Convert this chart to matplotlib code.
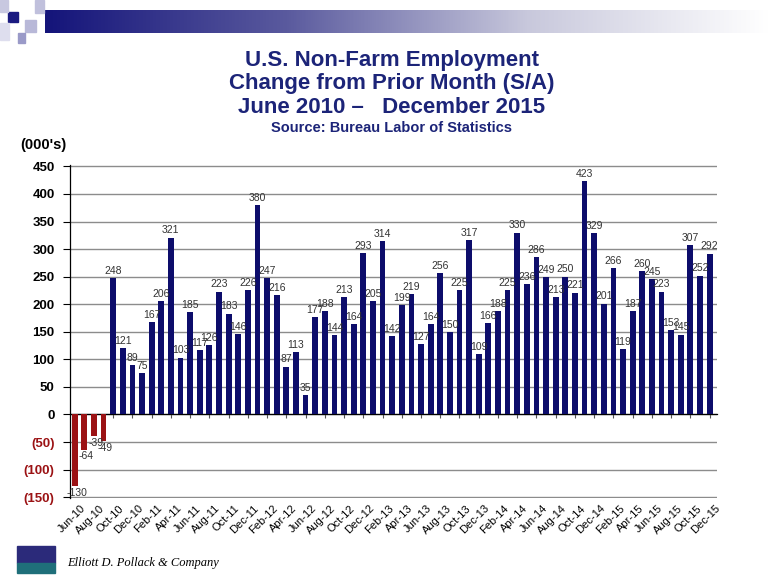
import matplotlib
matplotlib.use('Agg')
import matplotlib.pyplot as plt
import matplotlib.transforms as mtransforms
from matplotlib.patches import Rectangle
from matplotlib.colors import LinearSegmentedColormap
import numpy as np

# monthly change in non-farm employment (000's), Jun-10 .. Dec-15
months = ['Jun-10', 'Jul-10', 'Aug-10', 'Sep-10', 'Oct-10', 'Nov-10', 'Dec-10',
          'Jan-11', 'Feb-11', 'Mar-11', 'Apr-11', 'May-11', 'Jun-11', 'Jul-11',
          'Aug-11', 'Sep-11', 'Oct-11', 'Nov-11', 'Dec-11',
          'Jan-12', 'Feb-12', 'Mar-12', 'Apr-12', 'May-12', 'Jun-12', 'Jul-12',
          'Aug-12', 'Sep-12', 'Oct-12', 'Nov-12', 'Dec-12',
          'Jan-13', 'Feb-13', 'Mar-13', 'Apr-13', 'May-13', 'Jun-13', 'Jul-13',
          'Aug-13', 'Sep-13', 'Oct-13', 'Nov-13', 'Dec-13',
          'Jan-14', 'Feb-14', 'Mar-14', 'Apr-14', 'May-14', 'Jun-14', 'Jul-14',
          'Aug-14', 'Sep-14', 'Oct-14', 'Nov-14', 'Dec-14',
          'Jan-15', 'Feb-15', 'Mar-15', 'Apr-15', 'May-15', 'Jun-15', 'Jul-15',
          'Aug-15', 'Sep-15', 'Oct-15', 'Nov-15', 'Dec-15']
change = [-130, -64, -39, -49, 248, 121, 89,
          75, 167, 206, 321, 103, 185, 117,
          126, 223, 183, 146, 226,
          380, 247, 216, 87, 113, 35, 177,
          188, 144, 213, 164, 293,
          205, 314, 142, 199, 219, 127, 164,
          256, 150, 225, 317, 109,
          166, 188, 225, 330, 236, 286, 249,
          213, 250, 221, 423, 329,
          201, 266, 119, 187, 260, 245, 223,
          153, 145, 307, 252, 292]
yticks = [-150, -100, -50, 0, 50, 100, 150, 200, 250, 300, 350, 400, 450]
ytick_labels = ['(150)', '(100)', '(50)', '0', '50', '100', '150', '200',
                '250', '300', '350', '400', '450']

navy = '#0d0d6b'
red = '#9b1214'
title_blue = '#1c2478'
sans = ['Liberation Sans', 'DejaVu Sans']
narrow = ['Liberation Sans Narrow', 'Liberation Sans', 'DejaVu Sans']

fig = plt.figure(figsize=(7.68, 5.76), dpi=100)
ax = fig.add_axes([0.091, 0.135, 0.843, 0.578])

x = np.arange(len(change))
colors = [red if v < 0 else navy for v in change]
ax.bar(x, change, width=0.6, color=colors, zorder=3)

for xi, v in zip(x, change):
    if v < 0:
        ax.text(xi + 0.2, v - 3, str(v), ha='center', va='top', fontsize=7.5,
                color='#333333', family=sans, zorder=4)
    else:
        ax.text(xi, v + 4, str(v), ha='center', va='bottom', fontsize=7.5,
                color='#333333', family=sans, zorder=4)

ax.set_xlim(-0.5, len(change) - 0.2)
ax.set_ylim(-152, 452)
ax.set_yticks(yticks)
ax.set_yticklabels(ytick_labels, family=sans, fontsize=9.5, fontweight='bold')
for lab, v in zip(ax.get_yticklabels(), yticks):
    lab.set_color(red if v < 0 else 'black')
ax.tick_params(axis='y', length=5, width=0.8, pad=6)
ax.yaxis.grid(True, color='#8c8c8c', linewidth=1.0, zorder=0)

# zero line with small tick marks every two months
ax.spines['bottom'].set_position(('data', 0))
ax.spines['bottom'].set_linewidth(0.9)
ax.spines['top'].set_visible(False)
ax.spines['right'].set_visible(False)
ax.spines['left'].set_linewidth(0.9)
ax.set_xticks(x[::2])
ax.set_xticklabels([])
ax.tick_params(axis='x', direction='out', length=3, width=0.8, color='#555555')

trans = mtransforms.blended_transform_factory(ax.transData, ax.transAxes)
for xi in x[::2]:
    ax.text(xi + 0.6, -0.015, months[xi], transform=trans, rotation=45,
            ha='right', va='top', rotation_mode='anchor', fontsize=8,
            family=sans, color='black')

# titles
fig.text(0.51, 0.895, 'U.S. Non-Farm Employment', ha='center', va='center',
         fontsize=16, fontweight='bold', color=title_blue, family=narrow)
fig.text(0.51, 0.855, 'Change from Prior Month (S/A)', ha='center', va='center',
         fontsize=16, fontweight='bold', color=title_blue, family=narrow)
fig.text(0.51, 0.814, 'June 2010 \u2013   December 2015', ha='center', va='center',
         fontsize=16, fontweight='bold', color=title_blue, family=narrow)
fig.text(0.51, 0.777, 'Source: Bureau Labor of Statistics', ha='center', va='center',
         fontsize=10.5, fontweight='bold', color=title_blue, family=narrow)
fig.text(0.026, 0.748, "(000's)", ha='left', va='center', fontsize=10.5,
         fontweight='bold', color='black', family=narrow)

# header gradient band and squares
grad = np.linspace(0, 1, 256).reshape(1, -1)
hax = fig.add_axes([0.058, 0.943, 0.942, 0.040])
cmap = LinearSegmentedColormap.from_list('hdr', ['#14147a', '#5a5a9e', '#c8c8dc', '#ffffff'])
hax.imshow(grad, aspect='auto', cmap=cmap, extent=[0, 1, 0, 1])
hax.axis('off')
for (sx, sy, sw, sh, c) in [(0.010, 0.962, 0.013, 0.017, '#1a1a80'),
                            (0.000, 0.980, 0.010, 0.020, '#c8c8e0'),
                            (0.045, 0.977, 0.012, 0.023, '#c0c0dc'),
                            (0.033, 0.945, 0.014, 0.020, '#b8b8d8'),
                            (0.023, 0.925, 0.010, 0.018, '#9a9ac8'),
                            (0.000, 0.930, 0.012, 0.030, '#dedeee')]:
    fig.add_artist(Rectangle((sx, sy), sw, sh, transform=fig.transFigure,
                             color=c, zorder=5))

# footer logo
fig.add_artist(Rectangle((0.022, 0.022), 0.050, 0.030, transform=fig.transFigure,
                         color='#2b2a7a'))
fig.add_artist(Rectangle((0.022, 0.005), 0.050, 0.017, transform=fig.transFigure,
                         color='#1f6f7a'))
fig.text(0.088, 0.022, 'Elliott D. Pollack & Company', ha='left', va='center',
         fontsize=9, style='italic', color='black',
         family=['Liberation Serif', 'DejaVu Serif'])

fig.savefig('out.png', dpi=100)
